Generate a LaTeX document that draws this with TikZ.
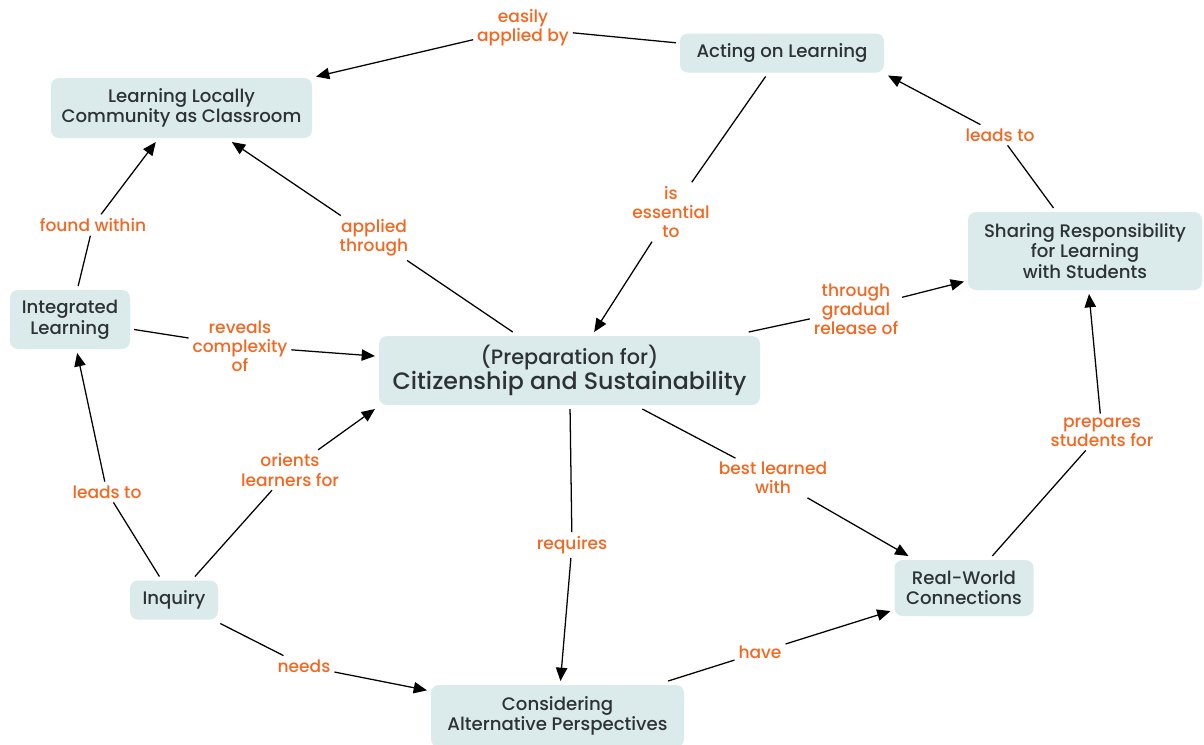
\documentclass[tikz,border=0pt]{standalone}
\usepackage{fontspec}
\setmainfont{Poppins Medium}
\usetikzlibrary{arrows.meta}
\definecolor{nodefill}{RGB}{219,234,234}
\definecolor{nodetext}{RGB}{45,50,55}
\definecolor{lbl}{RGB}{242,104,34}
\begin{document}
\begin{tikzpicture}[x=0.75pt,y=-0.75pt,
  concept/.style={fill=nodefill, rounded corners=6pt, text=nodetext, align=center,
    font=\fontsize{13.6}{15.5}\selectfont, inner sep=0pt, outer sep=3pt},
  sz/.style 2 args={minimum width=#1*0.75pt, minimum height=#2*0.75pt},
  lab/.style={text=lbl, align=center, font=\fontsize{12.8}{14.3}\selectfont, inner sep=1pt, outer sep=2pt},
  link/.style={draw=black, line width=0.95pt},
  arr/.style={link, -{Triangle[length=10pt,width=8.5pt]}}]
\useasboundingbox (0,0) rectangle (1204,744);
% concepts
\node[concept, sz={261}{60}] (LL) at (181.5,108) {Learning Locally\\Community as Classroom};
\node[concept, sz={204}{39}] (AL) at (782,53) {Acting on Learning};
\node[concept, sz={234}{78}] (SR) at (1085,251) {Sharing Responsibility\\for Learning\\with Students};
\node[concept, sz={120}{59}] (IL) at (70,319.5) {Integrated\\Learning};
\node[concept, sz={381}{69}, font=\fontsize{15.6}{18.5}\selectfont] (C) at (569.5,370.5) {(Preparation for)\\{\fontsize{17.8}{19}\selectfont Citizenship and Sustainability}};
\node[concept, sz={88}{39}] (IQ) at (174,600) {Inquiry};
\node[concept, sz={253}{62}] (CA) at (557.5,716) {Considering\\Alternative Perspectives};
\node[concept, sz={139}{56}] (RW) at (964,588) {Real-World\\Connections};
% linking phrases
\node[lab] (l1) at (523,28) {easily\\applied by};
\node[lab] (l2) at (671,212) {is\\essential\\to};
\node[lab] (l3) at (1000,135) {leads to};
\node[lab] (l4) at (93,225) {found within};
\node[lab] (l5) at (374,238) {applied\\through};
\node[lab] (l6) at (240,346) {reveals\\complexity\\of};
\node[lab] (l7) at (856,309) {through\\gradual\\release of};
\node[lab] (l8) at (107,492) {leads to};
\node[lab] (l9) at (290,470) {orients\\learners for};
\node[lab] (l10) at (572,545) {requires};
\node[lab] (l11) at (773,478) {best learned\\with};
\node[lab] (l12) at (1102,432) {prepares\\students for};
\node[lab] (l13) at (304,666) {needs};
\node[lab] (l14) at (760,652) {have};
% connections
\draw[link] (AL) -- (l1); \draw[arr] (l1) -- (LL);
\draw[link] (AL) -- (l2); \draw[arr] (l2) -- (C);
\draw[link] (SR) -- (l3); \draw[arr] (l3) -- (AL.-12);
\draw[link] (IL) -- (l4); \draw[arr] (l4) -- (LL);
\draw[link] (C) -- (l5); \draw[arr] (l5) -- (LL);
\draw[link] (IL) -- (l6); \draw[arr] (l6) -- (C);
\draw[link] (C) -- (l7); \draw[arr] (l7) -- (SR);
\draw[link] (IQ) -- (l8); \draw[arr] (l8) -- (IL);
\draw[link] (IQ) -- (l9); \draw[arr] (l9) -- (C.south west);
\draw[link] (C) -- (l10); \draw[arr] (l10) -- (CA);
\draw[link] (C) -- (l11); \draw[arr] (l11) -- (RW);
\draw[link] (RW) -- (l12); \draw[arr] (l12) -- (SR);
\draw[link] (IQ) -- (l13); \draw[arr] (l13) -- (CA);
\draw[link] (CA) -- (l14); \draw[arr] (l14) -- (RW);
\end{tikzpicture}
\end{document}
